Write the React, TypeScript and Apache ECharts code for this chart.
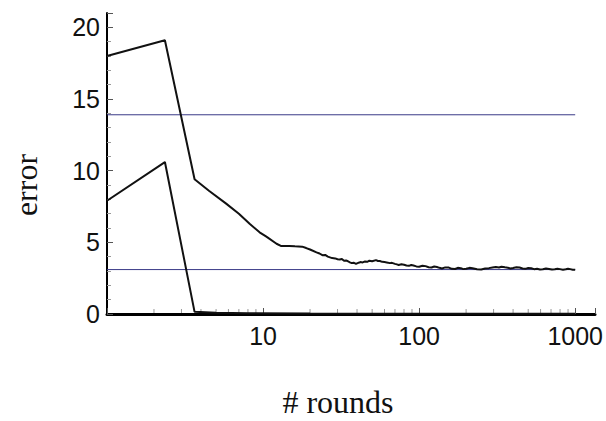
import React, { useEffect, useRef } from "react";
import * as echarts from "echarts";

const upperSeries: [number, number][] = [
  [1, 18.0], [2.35, 19.1], [3.64, 9.4], [4.5, 8.6], [5.8, 7.7], [7, 7.0], [8.2, 6.3],
  [9.5, 5.7], [10.5, 5.4], [12.2, 4.9], [13, 4.75], [14.7, 4.75], [16, 4.72], [17.8, 4.7],
  [18.9, 4.6], [20, 4.5], [22, 4.3], [23, 4.22], [24, 4.1], [25, 4.12], [26, 4.0], [27.7, 3.9],
  [29, 3.88], [30, 3.82], [31, 3.8], [32, 3.84], [33, 3.72], [34, 3.74], [35, 3.68], [36, 3.6],
  [37, 3.55], [38, 3.58], [39.4, 3.5], [41, 3.58], [42, 3.62], [43.5, 3.6], [45, 3.67],
  [46.5, 3.64], [48, 3.72], [50, 3.68], [52.9, 3.76], [54.5, 3.7], [56, 3.7], [58, 3.64],
  [60, 3.62], [62, 3.6], [65, 3.55], [67, 3.57], [70, 3.5], [72, 3.46], [74, 3.42],
  [77, 3.47], [80, 3.44], [83, 3.38], [86, 3.36], [89, 3.42], [92, 3.38], [96, 3.32],
  [100, 3.3], [105, 3.37], [110, 3.34], [115, 3.26], [120, 3.24], [125, 3.31], [130, 3.28],
  [135, 3.22], [140, 3.18], [147, 3.25], [155, 3.24], [162, 3.15], [170, 3.14], [177, 3.22],
  [185, 3.2], [192, 3.13], [200, 3.16], [210, 3.22], [220, 3.19], [235, 3.12], [250, 3.1],
  [265, 3.17], [280, 3.2], [295, 3.25], [310, 3.28], [325, 3.24], [337, 3.3], [355, 3.26],
  [370, 3.23], [385, 3.18], [400, 3.21], [420, 3.26], [440, 3.24], [460, 3.17], [480, 3.15],
  [500, 3.21], [523, 3.19], [545, 3.13], [570, 3.15], [595, 3.11], [620, 3.12], [650, 3.17],
  [680, 3.14], [710, 3.1], [740, 3.12], [770, 3.16], [800, 3.13], [835, 3.09], [870, 3.12],
  [900, 3.16], [930, 3.13], [965, 3.09], [1000, 3.08],
];

const lowerSeries: [number, number][] = [
  [1, 7.9], [2.35, 10.6], [3.64, 0.15], [5, 0.08], [8, 0.05], [20, 0.03], [100, 0.02], [1000, 0.02],
];

const upperReference: [number, number][] = [[1, 13.9], [1000, 13.9]];
const lowerReference: [number, number][] = [[1, 3.1], [1000, 3.1]];

const xTickLabels = [10, 100, 1000];
const yTickLabels = [0, 5, 10, 15, 20];
const xMinorTicks = [
  2, 3, 4, 5, 6, 7, 8, 9,
  20, 30, 40, 50, 60, 70, 80, 90,
  200, 300, 400, 500, 600, 700, 800, 900,
];

export default function App() {
  const ref = useRef<HTMLDivElement>(null);
  useEffect(() => {
    if (!ref.current) return;
    document.body.style.margin = "0";
    const chart = echarts.init(ref.current, undefined, { renderer: "svg" });
    const labelFont = "'Liberation Sans', Arial, sans-serif";
    const titleFont = "'Liberation Serif', 'Times New Roman', serif";
    chart.setOption({
      animation: false,
      backgroundColor: "#ffffff",
      grid: { left: 107, right: 9, top: 13, bottom: 107 },
      xAxis: {
        type: "log",
        logBase: 10,
        min: 1,
        max: 1340,
        axisLine: { show: true, lineStyle: { color: "#000", width: 3 } },
        axisTick: { show: true, inside: true, length: 6, lineStyle: { color: "#555", width: 1 } },
        axisLabel: {
          margin: 9,
          fontSize: 25,
          fontFamily: labelFont,
          color: "#111",
          formatter: (v: number) => (xTickLabels.includes(Math.round(v)) ? String(Math.round(v)) : ""),
        },
        splitLine: { show: false },
      },
      yAxis: {
        type: "value",
        min: 0,
        max: 21,
        interval: 5,
        axisLine: { show: true, lineStyle: { color: "#000", width: 2 } },
        axisTick: { show: true, inside: true, length: 6, lineStyle: { color: "#555", width: 1 } },
        minorTick: { show: true, splitNumber: 5, length: 4, lineStyle: { color: "#999", width: 1 } },
        axisLabel: {
          margin: 7,
          fontSize: 25,
          fontFamily: labelFont,
          color: "#111",
          formatter: (v: number) => (yTickLabels.includes(v) ? String(v) : ""),
        },
        splitLine: { show: false },
      },
      graphic: [
        {
          type: "text",
          x: 26,
          y: 185,
          rotation: Math.PI / 2,
          style: {
            text: "error",
            font: `32px ${titleFont}`,
            fill: "#111",
            textAlign: "center",
            textVerticalAlign: "middle",
          },
        },
        {
          type: "text",
          x: 338,
          y: 402,
          style: {
            text: "# rounds",
            font: `32px ${titleFont}`,
            fill: "#111",
            textAlign: "center",
            textVerticalAlign: "middle",
          },
        },
      ],
      series: [
        {
          type: "custom",
          silent: true,
          data: xMinorTicks.map((v) => [v, 0]),
          encode: { x: 0, y: 1 },
          renderItem: (_params: any, api: any) => {
            const p = api.coord([api.value(0), 0]);
            return {
              type: "line",
              shape: { x1: p[0], y1: p[1] - 1, x2: p[0], y2: p[1] - 5 },
              style: { stroke: "#999", lineWidth: 1 },
            };
          },
          z: 1,
        },
        {
          type: "line",
          data: upperReference,
          symbol: "none",
          lineStyle: { color: "#3a3a88", width: 1 },
          z: 2,
        },
        {
          type: "line",
          data: lowerReference,
          symbol: "none",
          lineStyle: { color: "#3a3a88", width: 1 },
          z: 2,
        },
        {
          type: "line",
          data: upperSeries,
          symbol: "none",
          lineStyle: { color: "#111", width: 2 },
          z: 3,
        },
        {
          type: "line",
          data: lowerSeries,
          symbol: "none",
          lineStyle: { color: "#111", width: 2 },
          z: 3,
        },
      ],
    });
    return () => chart.dispose();
  }, []);
  return <div ref={ref} style={{ width: 606, height: 421 }} />;
}
